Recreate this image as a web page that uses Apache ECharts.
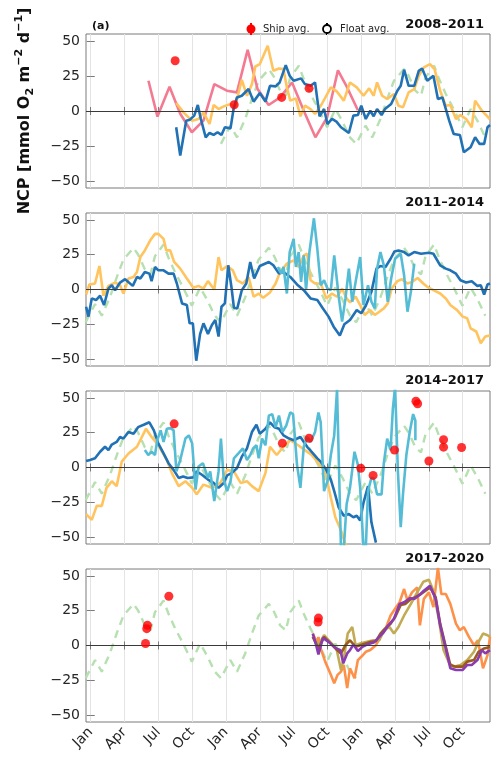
<!DOCTYPE html>
<html>
<head>
<meta charset="utf-8">
<script src="https://cdn.jsdelivr.net/npm/echarts@6/dist/echarts.min.js"></script>
<style>html,body{margin:0;padding:0;background:#fff}#chart{width:492px;height:765px}</style>
</head>
<body>
<div id="chart"></div>
<script>
// x = months since Jan 1 of the first year of each panel
const XMIN = -0.42, XMAX = 35.42
const monthTicks = [0, 3, 6, 9, 12, 15, 18, 21, 24, 27, 30, 33]
const monthNames = ['Jan', 'Apr', 'Jul', 'Oct']
const yTicks = [-50, -25, 0, 25, 50]
const panelTitles = ['2008–2011', '2011–2014', '2014–2017', '2017–2020']

// seasonal climatology (green dashed), one year
const climGreen = [[-0.45,-23.5],[0.38,-10.5],[0.98,-18.8],[1.7,-5.7],[2.3,8.6],[2.9,21.6],[3.8,29.9],[4.2,25.2],[4.8,14.5],[5.3,10.9],[5.7,24],[6.46,32.3],[6.9,22.8],[7.5,12.1],[8.2,1.4],[8.97,-11.6],[9.7,1.4],[10.3,-6.9],[11.0,-18.8]]

// panel 1: 2008-2011
const p1Pink = [[5.12,21.6],[5.92,-4],[6.99,17.3],[7.94,-2],[8.97,-15.2],[10.0,-6.9],[10.96,19.2],[12.08,14.5],[12.97,13.3],[13.92,43.7],[14.8,15.7],[15.78,4.3],[16.8,9.7],[17.86,20.4],[18.9,0.2],[19.93,-18.8],[20.97,-4.5],[21.93,29],[22.7,17.6],[23.7,0.5]]
const p1Yellow = [[7.58,5.7],[8.23,-1],[8.97,-6.9],[9.56,-5.7],[10,-1],[10.54,-9.3],[10.9,4.3],[11.34,1.4],[11.8,3.3],[12.4,5],[12.8,2.6],[13.4,22.3],[13.86,10.9],[14.3,19.2],[14.6,31.8],[15.0,33.5],[15.7,46.6],[16.2,28.7],[16.7,30.4],[17.1,29.9],[17.4,16.9],[17.7,7.4],[18.2,9],[18.6,-3.8],[19.0,3.8],[19.5,1.4],[19.9,-2.1],[20.5,5],[21.3,16.9],[21.85,13.8],[22.45,7.4],[23.0,20.4],[23.6,16.9],[24.2,10.9],[24.7,16.2],[25.1,10.9],[25.4,20.4],[25.85,10.9],[26.3,8.6],[26.9,12.1],[27.3,3.8],[27.7,2.6],[28.2,13.3],[28.7,15.7],[29.1,25.2],[29.55,31.1],[30.1,33.5],[30.5,29.9],[31.0,14.5],[31.5,3.8],[31.9,4.3],[32.4,-5.7],[32.8,-2.9],[33.3,-5.7],[33.8,-11.6],[34.1,7.4],[34.7,0.2],[35.4,-5.7]]
const p1Blue = [[7.58,-11.6],[7.94,-31.8],[8.47,-6.9],[8.8,-6.2],[9.18,-3.3],[9.5,4.3],[9.77,-5.7],[10.2,-18.8],[10.54,-15.7],[10.9,-17.1],[11.25,-15.2],[11.6,-17.1],[11.9,-11.6],[12.4,-12.4],[12.67,1.4],[12.97,9.7],[13.4,10.9],[14.0,15.7],[14.45,6.7],[15.0,12.8],[15.5,6.7],[15.9,18],[16.4,17.6],[16.76,20.4],[17.3,32.8],[17.65,25.2],[18.0,21.6],[18.66,23.3],[19.0,19.2],[19.5,18],[19.9,20.4],[20.3,-3.8],[20.7,1.4],[21.0,-9.3],[21.4,-5.7],[21.8,-7.6],[22.2,-11.6],[22.9,-15.7],[23.3,-3.3],[23.7,-2.9],[24.0,3.8],[24.4,-5.7],[24.8,0.2],[25.1,-3.8],[25.4,1.4],[25.8,-2.9],[26.1,1.4],[26.65,5],[27.2,14.5],[27.5,18],[27.8,29.5],[28.2,18],[28.7,18],[29.1,28.7],[29.4,30.4],[29.85,21.6],[30.4,25.2],[30.8,8.6],[31.2,9.7],[31.8,-6.9],[32.2,-16.4],[32.75,-17.1],[33.1,-29.5],[33.7,-25.9],[34.1,-18.8],[34.5,-23.5],[34.9,-23.5],[35.2,-11.6],[35.42,-10]]
const p1Ship = [[7.49,35.9],[12.73,4.5],[16.94,9.7],[19.37,16.2]]

// panel 2: 2011-2014
const p2Yellow = [[-0.41,-3.6],[-0.12,3.6],[0.38,4.3],[0.77,16.9],[1.13,-4.5],[1.57,2.6],[2.16,5],[2.6,3.1],[2.9,-2.9],[3.35,7.9],[3.8,9],[4.1,12.6],[4.4,23.3],[4.8,28.1],[5.27,35.2],[5.7,40],[6.0,40],[6.46,36.4],[6.7,28.1],[7.05,28.1],[7.4,19.8],[7.94,15],[8.53,7.9],[9.1,1.2],[9.56,2.6],[10.0,0.7],[10.4,6],[10.96,0],[11.34,23.3],[11.6,13.8],[12.1,16.9],[12.6,13.8],[12.97,6.7],[13.5,4.3],[14.0,9],[14.45,-5.2],[14.9,-2.9],[15.3,-6],[15.9,-2.1],[16.4,4.3],[16.8,12.6],[17.4,18.6],[18.0,21],[18.45,16.2],[18.9,24.5],[19.2,25.7],[19.5,6.7],[19.9,4.3],[20.4,4.3],[20.9,-6.4],[21.4,-2.9],[21.85,-5.2],[22.3,0.7],[22.7,-6.4],[23.0,-9.3],[23.5,-5.2],[23.9,-11.2],[24.3,-18.3],[24.8,-14.8],[25.2,-18.3],[25.6,-16],[26.0,-13.6],[26.35,-10],[26.7,0.7],[27.2,6],[27.6,7.4],[28.1,4.3],[28.5,5.5],[29.0,8.3],[29.5,4.3],[29.85,1.9],[30.4,-0.5],[31.0,-2.9],[31.5,-6.4],[31.9,-11.2],[32.5,-14.8],[33.0,-19.5],[33.4,-20.7],[33.7,-27.9],[34.2,-30.2],[34.6,-38.6],[35.0,-33.8],[35.42,-33.1]]
const p2Blue = [[-0.41,-12.4],[-0.2,-19.5],[0.09,-6.4],[0.47,-7.6],[0.83,-4.5],[1.18,-11.2],[1.57,0.7],[1.87,3.1],[2.16,-0.5],[2.6,5],[3.05,7.4],[3.73,2.6],[4.1,9],[4.4,7.9],[4.8,12.6],[5.2,11.4],[5.4,6],[5.7,16.2],[6.0,13.8],[6.46,13.8],[6.9,11.4],[7.35,11.4],[7.64,4.3],[8.1,-10],[8.53,-11.2],[8.77,-24.3],[9.06,-24.3],[9.36,-51.2],[9.7,-32.1],[10.0,-24.3],[10.4,-31.9],[10.75,-25.5],[11.05,-21.9],[11.34,-33.8],[11.6,-12.4],[11.9,-10],[12.2,17.4],[12.5,0.7],[12.7,-13.1],[13.0,-13.6],[13.4,-0.5],[13.8,4.3],[14.15,19.8],[14.5,7.9],[15.0,16.9],[15.8,19.8],[16.2,17.4],[16.7,11.4],[17.1,12.6],[17.7,9],[18.3,3.6],[18.9,-0.5],[19.5,-6.4],[20.1,-7.6],[20.6,-13.6],[21.1,-19.5],[21.55,-26.7],[22.1,-33.1],[22.5,-25],[23.0,-21.9],[23.6,-14.8],[24.0,-17.1],[24.4,-11.7],[24.9,-1.7],[25.35,15],[25.7,16.9],[26.15,16.2],[26.6,22.1],[26.95,27.4],[27.3,28.1],[27.8,26.9],[28.2,24.5],[28.7,26.9],[29.3,25.7],[30.0,26.4],[30.4,25.7],[31.0,17.4],[31.5,15],[31.9,13.8],[32.4,11.4],[32.8,6.7],[33.3,5],[33.8,6],[34.3,2.6],[34.6,3.1],[34.9,-3.6],[35.2,3.6],[35.42,4.3]]
const p2Cyan = [[16.6,16.2],[16.9,11.4],[17.1,16.2],[17.4,-2.9],[17.65,26.9],[18.0,36.4],[18.2,16.2],[18.45,26.9],[18.66,5.5],[18.9,24.5],[19.1,-0.5],[19.4,26.9],[19.8,51.2],[20.1,29.3],[20.4,3.1],[20.7,6.7],[21.0,0.7],[21.3,-0.5],[21.6,24.5],[22.0,-5.2],[22.3,-23.1],[22.6,-6.4],[22.9,15],[23.2,-8.8],[23.5,5.5],[23.9,23.3],[24.2,-11.2],[24.6,3.1],[24.9,-8.8],[25.2,-13.6],[25.4,15],[25.7,26.9],[26.0,17.4],[26.35,-8.8],[26.65,7.9],[27.0,22.1],[27.5,25.7],[27.8,10.2],[28.1,-16],[28.4,-1.7],[28.7,18.6]]

// panel 3: 2014-2017
const p3Yellow = [[-0.41,-33.5],[0.09,-37.7],[0.53,-27.6],[0.98,-27.6],[1.4,-14.6],[1.87,-9.9],[2.3,-13.4],[2.75,4.2],[3.35,10.1],[4.1,14.9],[4.9,27.8],[5.4,21.9],[6.0,16],[6.75,5.4],[7.2,-4],[7.8,-13.4],[8.4,-9.9],[9.0,-14.6],[9.4,-19.3],[10.0,-12.3],[10.75,-14.6],[11.5,-11.1],[12.1,-1.7],[12.7,-2.8],[13.3,-11.1],[13.86,-9.9],[14.3,-13.4],[14.9,-17],[15.5,-4],[15.9,14.9],[16.5,9],[17.1,14.9],[17.7,19.6],[18.4,16],[19.0,12.5],[19.6,9],[20.2,3.1],[20.8,-2.8],[21.3,-21.7],[21.7,-35.8],[22.2,-45.3],[22.7,-58]]
const p3Blue = [[-0.41,4.7],[-0.06,5.4],[0.38,6.6],[0.83,11.3],[1.27,14.9],[1.57,12.5],[1.87,16.5],[2.3,18.4],[2.6,21.9],[2.9,20.8],[3.35,25.5],[3.8,24.3],[4.2,29],[4.7,30.7],[5.2,32.5],[5.6,26.7],[6.0,17.2],[6.46,10.1],[6.9,3.1],[7.35,-1.7],[7.8,-7.5],[8.2,-6.4],[8.6,-7.5],[9.1,-7.1],[9.4,-2.8],[9.86,-5.2],[10.4,-8.7],[10.9,-11.1],[11.34,-14.6],[11.8,-11.1],[12.1,-5.7],[12.5,-4],[12.97,-0.5],[13.4,7.8],[13.86,13.7],[14.3,25.5],[14.7,30.7],[15.0,24.3],[15.5,27.8],[15.9,32.5],[16.3,29],[16.7,27.8],[17.1,23.1],[17.6,20.8],[18.0,19.6],[18.6,21.9],[19.2,14.9],[19.6,11.3],[20.1,6.6],[20.4,4.2],[20.9,-1.7],[21.3,-8.7],[21.6,-17],[22.0,-28.8],[22.45,-34.7],[22.9,-33.5],[23.3,-35.8],[23.6,-34.7],[23.9,-38.2],[24.2,-25.2],[24.6,-13.4],[24.9,-39.4],[25.3,-54]]
const p3Cyan = [[4.8,12.5],[5.1,9],[5.4,11.3],[5.7,9],[5.9,19.6],[6.2,26.7],[6.46,18.4],[6.75,27.8],[7.1,28.3],[7.35,26.7],[7.6,-2.8],[7.94,5.4],[8.4,20.8],[8.7,23.1],[9.0,17.2],[9.3,-15.8],[9.56,0.7],[9.95,3.1],[10.4,-7.5],[10.6,-2.8],[10.96,-24.1],[11.34,-2.8],[11.55,20.8],[11.8,-8.7],[12.1,-17],[12.4,-9.9],[12.7,6.6],[13.1,10.1],[13.5,13.7],[13.86,5.4],[14.15,9],[14.4,13.7],[14.7,16],[14.9,6.6],[15.2,20.8],[15.5,16],[15.8,37.3],[16.1,38.4],[16.4,29],[16.7,37.3],[17.0,25.5],[17.35,30.2],[17.7,39.6],[17.95,38.4],[18.3,1.9],[18.6,-14.6],[18.9,14.9],[19.2,21.9],[19.5,18.4],[19.9,25.5],[20.2,39.6],[20.4,32.5],[20.7,-17],[21.0,-9.9],[21.3,9],[21.6,23.1],[21.85,56],[22.2,-58],[22.45,-58],[22.7,-26.4],[23.0,-14.6],[23.4,11.3],[23.7,1.9],[23.9,-14.6],[24.2,-58],[24.4,-58],[24.6,-17],[24.9,-7.5],[25.1,-7.5],[25.4,-19.3],[25.8,-19.3],[26.0,3.1],[26.3,20.8],[26.6,12.5],[26.8,42],[27.0,58],[27.25,-2.8],[27.5,-42.9],[27.7,-19.3],[28.0,9],[28.3,25.5],[28.6,38.4],[28.8,33.7],[28.8,19.6]]
const p3Ship = [[7.4,31.4],[17.0,17.5],[19.37,21],[23.96,-0.5],[25.05,-5.7],[26.95,12.5],[28.85,47.6],[29.0,45.8],[30.0,4.7],[31.3,20],[31.3,14.6],[32.9,14.4]]

// panel 4: 2017-2020
const p4Orange = [[19.7,8.6],[20.1,1.4],[20.2,6.2],[20.4,-2.1],[20.8,-11.6],[21.3,-21.1],[21.6,-27.1],[21.9,-21.1],[22.2,-18.8],[22.45,-14],[22.75,-30.6],[23.0,-16.4],[23.4,-23.5],[23.7,-10.5],[24.0,-8.1],[24.4,-4.5],[24.8,-3.3],[25.3,0.2],[25.7,6.2],[26.1,10.9],[26.6,21.6],[27.0,26.4],[27.4,31.1],[27.8,40.6],[28.1,32.3],[28.5,38.2],[28.96,41.8],[29.2,14.5],[29.55,33.5],[30.0,38.2],[30.4,27.6],[30.8,56],[31.1,37],[31.5,37],[31.9,29.9],[32.4,15.7],[32.75,10.9],[33.1,13.3],[33.55,6.2],[34.0,0.2],[34.35,3.8],[34.8,-16.4],[35.2,-6.9],[35.42,6.2]]
const p4Olive = [[19.7,6.2],[20.2,0.2],[20.7,7.4],[21.3,2.1],[21.8,-2.1],[22.2,-17.6],[22.45,-9.3],[22.8,8.6],[23.2,13.3],[23.5,0.2],[23.9,1.4],[24.5,2.6],[25.1,3.8],[25.6,3.8],[26.0,10.9],[26.5,13.3],[26.9,8.6],[27.3,13.3],[27.8,21.6],[28.4,29.9],[28.96,38.2],[29.5,45.8],[30.0,47.3],[30.4,39.4],[30.9,18],[31.3,-3.3],[31.8,-12.8],[32.2,-15.2],[32.8,-14],[33.4,-10.5],[34.0,-4.5],[34.4,2.6],[34.8,8.6],[35.2,7.4],[35.42,6.2]]
const p4Brown = [[19.7,6.2],[20.2,-2.1],[20.7,6.2],[21.3,1.4],[21.85,-3.3],[22.2,-5.7],[22.6,0.2],[23.0,3.8],[23.5,-1],[24.1,0.7],[24.8,2.6],[25.3,3.1],[25.7,8.6],[26.1,12.1],[26.6,15.7],[27.0,20.4],[27.5,29.2],[27.9,29.9],[28.4,33.5],[28.8,34.7],[29.3,37],[29.7,39.4],[30.1,41.8],[30.6,34.7],[31.0,15.7],[31.5,-1],[31.9,-14],[32.4,-15.2],[33.0,-15.2],[33.4,-11.6],[34.0,-10.5],[34.4,-4.5],[34.9,-2.1],[35.42,-1]]
const p4Purple = [[19.7,8.6],[20.0,0.2],[20.2,-6.4],[20.6,5.5],[21.1,2.6],[21.7,-1.7],[22.15,-3.3],[22.4,-12.8],[22.75,-5.7],[23.0,-3.3],[23.3,0.7],[23.7,-4],[24.1,-1],[24.5,0.7],[25.1,2.1],[25.6,6.2],[26.0,9.7],[26.4,14.5],[26.9,19.2],[27.4,29.9],[27.8,31.1],[28.3,34],[28.7,33.5],[29.1,35.9],[29.55,39.4],[30.1,43],[30.6,33.5],[31.0,14.5],[31.5,-2.1],[31.9,-16.4],[32.4,-17.6],[33.0,-17.6],[33.4,-14],[33.8,-14],[34.3,-10.5],[34.7,-3.3],[35.0,-5.7],[35.42,-3.3]]
const p4Ship = [[4.86,1.4],[4.97,12.1],[5.03,14.5],[6.93,35.4],[20.17,16.9],[20.2,19.7]]

const C = {pink:'#f47a92', yellow:'#ffc45e', blue:'#2171b5', cyan:'#55bcd6', green:'#b6e0b0',
  orange:'#fd9149', olive:'#c2ab55', brown:'#9a5a1c', purple:'#8b3bb0', red:'#ff0000', axis:'#7a7a7a', text:'#262626'}
const FONT = 'DejaVu Sans'

function climSpan(from, to) {
  const out = []
  for (let k = 0; k < 3; k++) climGreen.forEach(([m, v]) => { const t = m + 12 * k; if (t >= from && t <= to) out.push([t, v]) })
  return out
}

const grids = [
  { left: 86, width: 404, top: 34, height: 154 },
  { left: 86, width: 404, top: 213, height: 153 },
  { left: 86, width: 404, top: 391, height: 153 },
  { left: 86, width: 404, top: 569, height: 153 }
]

const xAxis = [], yAxis = [], series = []
grids.forEach((g, i) => {
  g.show = true; g.borderColor = C.axis; g.borderWidth = 1
  const tick = { inside: true, length: 4, customValues: monthTicks, lineStyle: { color: C.axis } }
  xAxis.push({
    gridIndex: i, type: 'value', min: XMIN, max: XMAX, axisLine: { show: false }, axisTick: tick,
    axisLabel: i === 3 ? { customValues: monthTicks, rotate: 45, margin: 8, fontSize: 14, fontFamily: FONT, color: C.text,
      formatter: v => monthNames[Math.round(v / 3) % 4] } : { show: false },
    splitLine: { show: true, lineStyle: { color: '#e4e4e4', width: 1 } }
  })
  xAxis.push({ gridIndex: i, type: 'value', position: 'top', min: XMIN, max: XMAX, axisLine: { show: false }, axisTick: tick, axisLabel: { show: false }, splitLine: { show: false } })
  const ytick = { inside: true, length: 4, customValues: yTicks, lineStyle: { color: C.axis } }
  yAxis.push({
    gridIndex: i, type: 'value', min: -55, max: 55, axisLine: { show: false }, axisTick: ytick,
    axisLabel: { customValues: yTicks, fontSize: 14, fontFamily: FONT, color: C.text, margin: 6, formatter: v => String(v).replace('-', '−') },
    splitLine: { show: false }
  })
  yAxis.push({ gridIndex: i, type: 'value', position: 'right', min: -55, max: 55, axisLine: { show: false }, axisTick: ytick, axisLabel: { show: false }, splitLine: { show: false } })
})

function line(i, data, color, extra) {
  return Object.assign({ type: 'line', xAxisIndex: 2 * i, yAxisIndex: 2 * i, data, symbol: 'none', silent: true,
    lineStyle: { color, width: 2.6 }, itemStyle: { color }, animation: false }, extra || {})
}
function green(i, from, to) {
  return line(i, climSpan(from, to), C.green, {
    lineStyle: { color: C.green, width: 2.4, type: [8, 6] },
    markLine: { silent: true, symbol: ['none', 'none'], label: { show: false }, animation: false,
      lineStyle: { color: '#3a3a3a', width: 1, type: 'solid' }, data: [{ yAxis: 0 }] }
  })
}
function dots(i, data) {
  return { type: 'scatter', xAxisIndex: 2 * i, yAxisIndex: 2 * i, data, symbolSize: 9, itemStyle: { color: C.red }, z: 5, silent: true, animation: false }
}

series.push(green(0, 11.5, 36), line(0, p1Pink, C.pink), line(0, p1Yellow, C.yellow), line(0, p1Blue, C.blue), dots(0, p1Ship))
series.push(green(1, -1, 36), line(1, p2Yellow, C.yellow), line(1, p2Blue, C.blue), line(1, p2Cyan, C.cyan))
series.push(green(2, -1, 36), line(2, p3Yellow, C.yellow), line(2, p3Blue, C.blue), line(2, p3Cyan, C.cyan), dots(2, p3Ship))
series.push(green(3, -1, 23.6), line(3, p4Orange, C.orange), line(3, p4Olive, C.olive), line(3, p4Brown, C.brown), line(3, p4Purple, C.purple), dots(3, p4Ship))

const titleY = [25, 203, 381, 559]
const graphic = titleY.map((y, i) => ({ type: 'text', x: 484, y, style: { text: panelTitles[i], font: `bold 13px "${FONT}"`, fill: '#111', align: 'right', verticalAlign: 'middle' } }))
graphic.push(
  { type: 'text', x: 92, y: 26, style: { text: '(a)', font: `bold 11px "${FONT}"`, fill: '#111', verticalAlign: 'middle' } },
  { type: 'line', shape: { x1: 251, y1: 23, x2: 251, y2: 35 }, style: { stroke: C.red, lineWidth: 2 } },
  { type: 'circle', shape: { cx: 251, cy: 29, r: 4.5 }, style: { fill: C.red } },
  { type: 'text', x: 263, y: 29, style: { text: 'Ship avg.', font: `10px "${FONT}"`, fill: '#222', verticalAlign: 'middle' } },
  { type: 'line', shape: { x1: 327, y1: 23, x2: 327, y2: 35 }, style: { stroke: '#000', lineWidth: 2 } },
  { type: 'circle', shape: { cx: 327, cy: 29, r: 4 }, style: { fill: '#fff', stroke: '#000', lineWidth: 1.8 } },
  { type: 'text', x: 340, y: 29, style: { text: 'Float avg.', font: `10px "${FONT}"`, fill: '#222', verticalAlign: 'middle' } },
  { type: 'text', x: 25, y: 111, rotation: Math.PI / 2,
    style: { text: '{b|NCP [mmol O}{sub|2}{b| m}{sup|−2}{b| d}{sup|−1}{b|]}', align: 'center', verticalAlign: 'middle',
      rich: {
        b: { fontFamily: FONT, fontWeight: 'bold', fontSize: 16, lineHeight: 22, fill: '#111' },
        sub: { fontFamily: FONT, fontWeight: 'bold', fontSize: 11, lineHeight: 22, verticalAlign: 'bottom', fill: '#111' },
        sup: { fontFamily: FONT, fontWeight: 'bold', fontSize: 11, lineHeight: 22, verticalAlign: 'top', fill: '#111' }
      } } }
)

const chart = echarts.init(document.getElementById('chart'), null, { renderer: 'canvas' })
chart.setOption({ animation: false, grid: grids, xAxis, yAxis, series, graphic })
</script>
</body>
</html>
